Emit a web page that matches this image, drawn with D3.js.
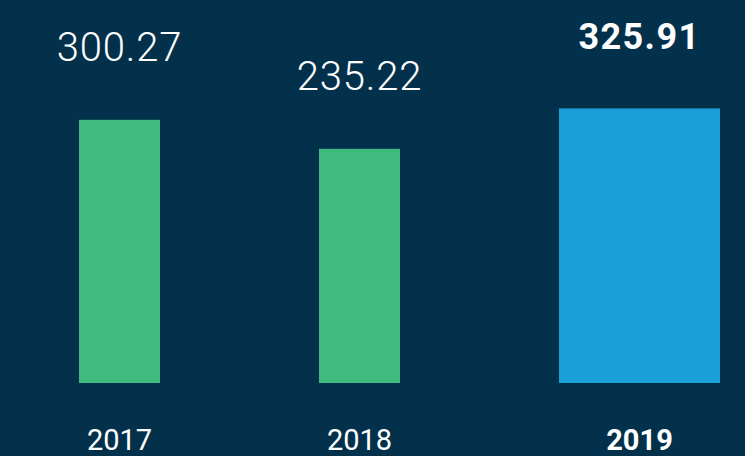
<!DOCTYPE html>
<html>
<head>
<meta charset="utf-8">
<script src="https://cdn.jsdelivr.net/npm/d3@7"></script>
<style>
  html, body { margin: 0; padding: 0; background: #03314b; }
  svg { display: block; }
</style>
</head>
<body>
<div id="chart"></div>
<script>
// data
var years = ["2017", "2018", "2019"];
var values = [300.27, 235.22, 325.91];
var highlight = ["2019"];

var width = 745, height = 456;

var svg = d3.select("#chart")
    .append("svg")
    .attr("width", width)
    .attr("height", height);

svg.append("rect")
    .attr("width", width)
    .attr("height", height)
    .attr("fill", "#03314b");

// x positions: one band per year, the highlighted year is drawn double width
var xScale = d3.scaleBand()
    .domain(years)
    .range([79, 640])
    .paddingInner(0.6625)
    .paddingOuter(0);

// the baseline is not at zero in the original
var yScale = d3.scaleLinear()
    .domain([-290, 340])
    .range([383, 102.1]);

function isHi(d) { return highlight.indexOf(d) >= 0; }

function barWidth(d) {
    return isHi(d) ? xScale.bandwidth() * 2 - 1 : xScale.bandwidth();
}

var bar = svg.selectAll("g.bar")
    .data(years)
    .enter().append("g")
    .attr("class", "bar")
    .attr("transform", function(d) { return "translate(" + xScale(d) + ",0)"; });

bar.append("rect")
    .attr("y", function(d, i) { return yScale(values[i]); })
    .attr("height", function(d, i) { return yScale.range()[0] - yScale(values[i]); })
    .attr("width", barWidth)
    .attr("fill", function(d) { return isHi(d) ? "#1b9fd9" : "#41ba7e"; });

// value labels
bar.append("text")
    .attr("x", function(d) { return barWidth(d) / 2; })
    .attr("y", function(d, i) { return yScale(values[i]) - 59; })
    .attr("text-anchor", "middle")
    .attr("fill", "#ffffff")
    .style("font-family", "Roboto, 'Liberation Sans', sans-serif")
    .style("font-weight", function(d) { return isHi(d) ? 700 : 300; })
    .style("font-size", function(d) { return isHi(d) ? "36px" : "40px"; })
    .style("letter-spacing", function(d) { return isHi(d) ? "1.4px" : "0.8px"; })
    .text(function(d, i) { return values[i].toFixed(2); });

// year labels
bar.append("text")
    .attr("x", function(d) { return barWidth(d) / 2; })
    .attr("y", 450)
    .attr("text-anchor", "middle")
    .attr("fill", "#ffffff")
    .style("font-family", "Roboto, 'Liberation Sans', sans-serif")
    .style("font-weight", function(d) { return isHi(d) ? 700 : 400; })
    .style("font-size", "29px")
    .text(function(d) { return d; });
</script>
</body>
</html>
